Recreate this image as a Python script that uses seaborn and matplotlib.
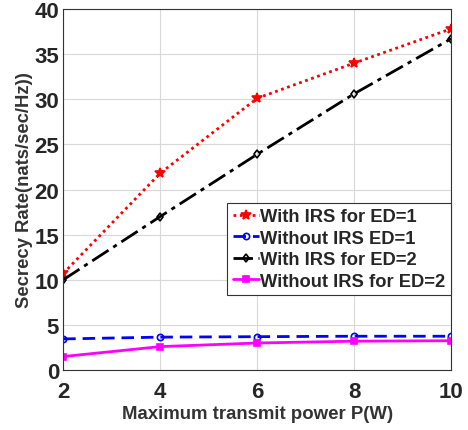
import pandas as pd
import matplotlib
matplotlib.use("Agg")
import matplotlib.pyplot as plt
import seaborn as sns

power = [2, 4, 6, 8, 10]
with_irs_ed1 = [10.7, 21.8, 30.1, 34.0, 37.8]
without_irs_ed1 = [3.45, 3.65, 3.7, 3.75, 3.75]
with_irs_ed2 = [10.0, 17.0, 23.9, 30.6, 36.7]
without_irs_ed2 = [1.5, 2.6, 3.0, 3.2, 3.25]

names = ["With IRS for ED=1", "Without IRS ED=1", "With IRS for ED=2", "Without IRS for ED=2"]
series = [with_irs_ed1, without_irs_ed1, with_irs_ed2, without_irs_ed2]
colors = ["red", "#0000ff", "black", "#ff00ff"]
styles = [(0, (1, 1.3)), (0, (4.5, 2.5)), (0, (7, 2, 1.5, 2)), "-"]
markers = ["*", "o", "d", "s"]
msizes = [7.5, 4.5, 4.5, 4.5]

sns.set_style("whitegrid")
plt.rcParams['font.family'] = ['Liberation Sans', 'DejaVu Sans']
plt.rcParams['font.weight'] = 'bold'

rows = []
for n, s in zip(names, series):
    for p, v in zip(power, s):
        rows.append({'P': p, 'Rate': v, 'Series': n})
df = pd.DataFrame(rows)

fig, ax = plt.subplots(figsize=(4.68, 4.31), dpi=100)
for n, c, ls, m, ms in zip(names, colors, styles, markers, msizes):
    sub = df[df['Series'] == n]
    sns.lineplot(x='P', y='Rate', data=sub, ax=ax, color=c, linestyle=ls, linewidth=2,
                 marker=m, markersize=ms, markerfacecolor=c if m in ("*", "s") else "none",
                 markeredgecolor=c, markeredgewidth=1.2, label=n)

ax.set_xlim(2, 10)
ax.set_ylim(0, 40)
ax.set_xticks(power)
ax.set_yticks(range(0, 41, 5))
ax.grid(True, color='#d9d9d9', linewidth=0.8)
for sp in ax.spines.values():
    sp.set_color('#333333')
    sp.set_linewidth(0.8)
ax.tick_params(direction='in', length=3, labelsize=16, colors='#262626')
ax.tick_params(axis='x', pad=8)
ax.tick_params(axis='y', pad=3)
for t in ax.get_xticklabels() + ax.get_yticklabels():
    t.set_fontweight('bold')
ax.set_xlabel("Maximum transmit power P(W)", fontsize=13.4, fontweight='bold', color='#333333', labelpad=2)
ax.set_ylabel("Secrecy Rate(nats/sec/Hz))", fontsize=13.3, fontweight='bold', color='#333333', labelpad=1)

leg = ax.legend(loc='lower right', bbox_to_anchor=(1.0, 0.207), fontsize=13.2, frameon=True,
                fancybox=False, edgecolor='#333333', framealpha=1, handlelength=1.4,
                handletextpad=0.1, borderpad=0.3, labelspacing=0.25, borderaxespad=0)
leg.get_frame().set_linewidth(0.8)
for t in leg.get_texts():
    t.set_fontweight('bold')

plt.subplots_adjust(left=0.135, right=0.964, top=0.977, bottom=0.139)
plt.savefig("out.png", dpi=100)
